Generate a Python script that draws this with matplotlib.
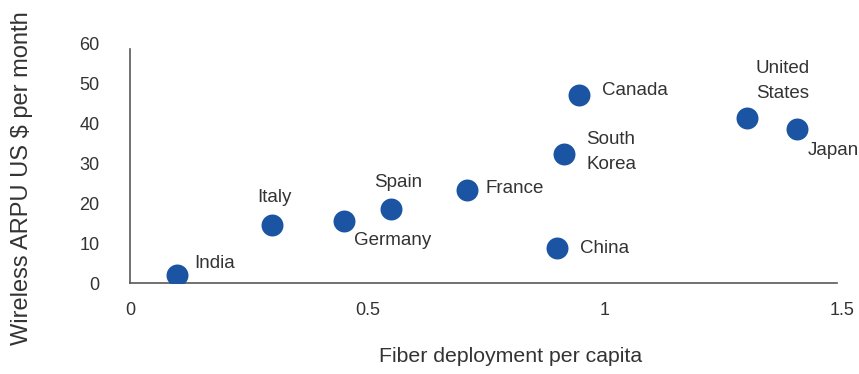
import matplotlib
matplotlib.use("Agg")
import matplotlib.pyplot as plt

plt.rcParams["font.family"] = ["Liberation Sans", "DejaVu Sans"]

countries = ["India", "Italy", "Germany", "Spain", "France", "China",
             "South\nKorea", "Canada", "United\nStates", "Japan"]
fiber = [0.10, 0.30, 0.45, 0.55, 0.71, 0.90, 0.915, 0.947, 1.30, 1.405]
arpu = [2.0, 14.5, 15.6, 18.5, 23.3, 8.8, 32.3, 47.0, 41.2, 38.5]

# label offsets in pixels (dx, dy) and alignment
label_pos = {
    "India": (17, 12, "left"),
    "Italy": (2, 28, "center"),
    "Germany": (10, -20, "left"),
    "Spain": (7, 27, "center"),
    "France": (19, 1, "left"),
    "China": (23, -1, "left"),
    "South\nKorea": (22, 2, "left"),
    "Canada": (23, 5, "left"),
    "United\nStates": (9, 37, "left"),
    "Japan": (11, -21, "left"),
}

text_color = "#333333"
dot_color = "#1a54a3"

fig = plt.figure(figsize=(8.59, 3.74), dpi=100)
ax = fig.add_axes([0.1513, 0.2433, 0.8287, 0.6417])

ax.scatter(fiber, arpu, s=250, color=dot_color, zorder=3, linewidths=0)

for name, x, y in zip(countries, fiber, arpu):
    dx, dy, ha = label_pos[name]
    ax.annotate(name, (x, y), xytext=(dx, dy), textcoords="offset pixels",
                ha=ha, va="center", fontsize=13.5, color=text_color,
                linespacing=1.65)

ax.set_xlim(0, 1.5)
ax.set_ylim(0, 60)
ax.set_xticks([0, 0.5, 1, 1.5])
ax.set_xticklabels(["0", "0.5", "1", "1.5"])
ax.set_yticks(range(0, 61, 10))

for side in ["top", "right"]:
    ax.spines[side].set_visible(False)
for side in ["left", "bottom"]:
    ax.spines[side].set_color("#595959")
    ax.spines[side].set_linewidth(1.2)
ax.spines["left"].set_bounds(0, 58.5)
ax.spines["bottom"].set_bounds(0, 1.49)

ax.tick_params(length=0, labelsize=13, colors=text_color, pad=14)
ax.tick_params(axis="y", pad=22)

ax.set_xlabel("Fiber deployment per capita", fontsize=15.3, color=text_color)
ax.set_ylabel("Wireless ARPU US $ per month", fontsize=17, color=text_color)
ax.xaxis.set_label_coords(0.534, -0.265)
ax.yaxis.set_label_coords(-0.136, 0.4375)

fig.savefig("out.png", dpi=100)
